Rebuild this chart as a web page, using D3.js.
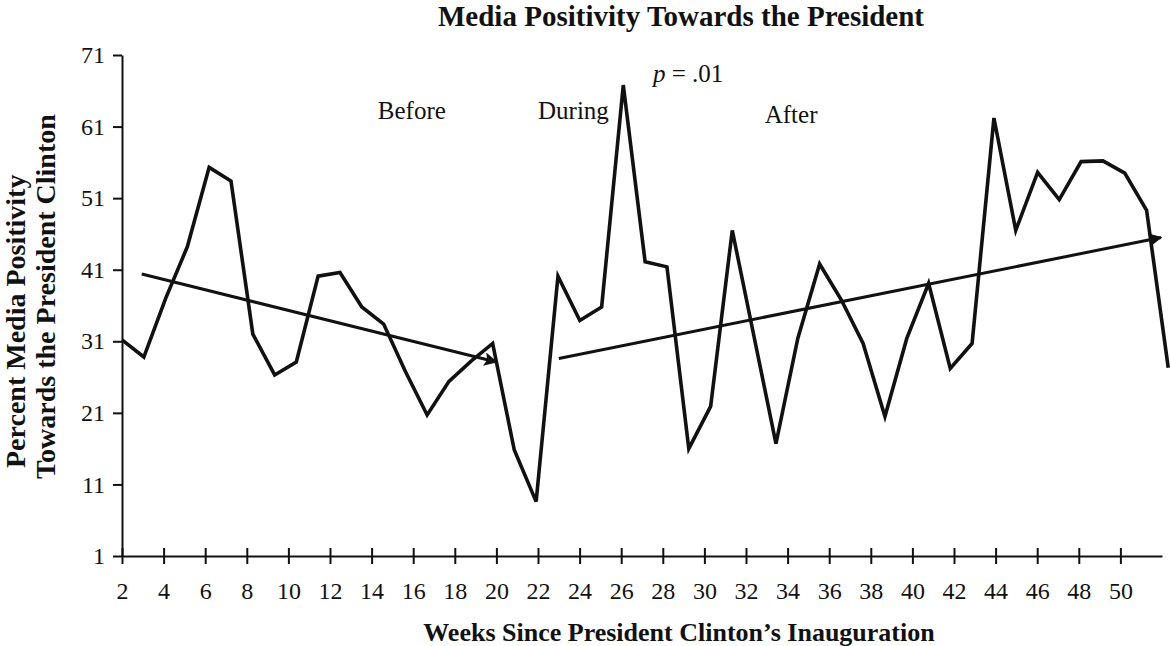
<!DOCTYPE html>
<html>
<head>
<meta charset="utf-8">
<script src="https://cdn.jsdelivr.net/npm/d3@7"></script>
<style>
  html, body { margin: 0; padding: 0; background: #fff; }
  svg { display: block; }
  text { font-family: "Liberation Serif", "Times New Roman", serif; fill: #111; }
</style>
</head>
<body>
<svg id="chart" width="1170" height="646"></svg>
<script>
// ---- data ----
const weeks = [2.0, 3.05, 4.1, 5.14, 6.19, 7.24, 8.29, 9.34, 10.38, 11.43, 12.48, 13.53,
  14.58, 15.62, 16.67, 17.72, 18.77, 19.82, 20.86, 21.91, 22.96, 24.01, 25.06, 26.1,
  27.15, 28.2, 29.25, 30.3, 31.34, 32.39, 33.44, 34.49, 35.54, 36.58, 37.63, 38.68,
  39.73, 40.78, 41.82, 42.87, 43.92, 44.97, 46.02, 47.06, 48.11, 49.16, 50.21, 51.26, 52.3];
const positivity = [31.2, 28.8, 37.0, 44.2, 55.3, 53.4, 32.0, 26.3, 28.1, 40.1, 40.6, 35.8,
  33.4, 26.8, 20.7, 25.4, 28.2, 30.7, 15.8, 8.6, 40.1, 33.9, 35.8, 66.8,
  42.1, 41.4, 16.0, 21.9, 46.5, 31.6, 16.7, 31.4, 41.8, 36.8, 30.7, 20.5,
  31.4, 39.1, 27.2, 30.7, 62.2, 46.5, 54.6, 50.8, 56.1, 56.2, 54.5, 49.3, 27.3];
const trendBefore = [{week: 2.95, value: 40.4}, {week: 20.0, value: 28.1}];
const trendAfter  = [{week: 23.0, value: 28.6}, {week: 51.95, value: 45.5}];
const xTicks = [2, 4, 6, 8, 10, 12, 14, 16, 18, 20, 22, 24, 26, 28, 30, 32, 34, 36, 38, 40, 42, 44, 46, 48, 50];
const yTicks = [1, 11, 21, 31, 41, 51, 61, 71];
const phaseLabels = [
  {text: "Before", week: 14.3, value: 62.0},
  {text: "During", week: 22.0, value: 62.0},
  {text: "After",  week: 32.9, value: 61.5}
];
const title = "Media Positivity Towards the President";
const xTitle = "Weeks Since President Clinton\u2019s Inauguration";
const yTitle1 = "Percent Media Positivity";
const yTitle2 = "Towards the President Clinton";

// ---- layout ----
const svg = d3.select("#chart");
const x = d3.scaleLinear().domain([2, 52]).range([122, 1162]);
const y = d3.scaleLinear().domain([1, 71]).range([556, 55]);

svg.append("rect").attr("width", 1170).attr("height", 646).attr("fill", "#fff");

// arrow marker
svg.append("defs").append("marker")
  .attr("id", "arrow").attr("viewBox", "0 0 10 10")
  .attr("refX", 9).attr("refY", 5)
  .attr("markerWidth", 6).attr("markerHeight", 4.5)
  .attr("markerUnits", "strokeWidth")
  .attr("orient", "auto")
  .append("path").attr("d", "M0,0 L10,5 L0,10 L2,5 z").attr("fill", "#111");

// y axis
const yAxis = svg.append("g").attr("transform", "translate(122,0)")
  .call(d3.axisLeft(y).tickValues(yTicks).tickSize(9).tickSizeOuter(0).tickPadding(8));
yAxis.select(".domain").attr("stroke", "#111").attr("stroke-width", 2);
yAxis.selectAll(".tick line").attr("stroke", "#111").attr("stroke-width", 2);
yAxis.selectAll(".tick text").attr("font-size", 24).attr("font-family", "Liberation Serif").attr("fill", "#111");

// x axis (ticks crossing the line)
const xAxis = svg.append("g").attr("transform", "translate(0,556)")
  .call(d3.axisBottom(x).tickValues(xTicks).tickSize(8).tickSizeOuter(0).tickPadding(18));
xAxis.select(".domain").attr("stroke", "#111").attr("stroke-width", 2);
xAxis.selectAll(".tick line").attr("y1", -8).attr("y2", 8).attr("stroke", "#111").attr("stroke-width", 2);
xAxis.selectAll(".tick text").attr("font-size", 24).attr("font-family", "Liberation Serif").attr("fill", "#111");

// data line
const line = d3.line().x((d, i) => x(weeks[i])).y(d => y(d));
svg.append("path").datum(positivity)
  .attr("d", line).attr("fill", "none").attr("stroke", "#111")
  .attr("stroke-width", 3.6).attr("stroke-linejoin", "miter");

// trend arrows
const tline = d3.line().x(d => x(d.week)).y(d => y(d.value));
[trendBefore, trendAfter].forEach(t => {
  svg.append("path").datum(t).attr("d", tline)
    .attr("fill", "none").attr("stroke", "#111").attr("stroke-width", 3)
    .attr("marker-end", "url(#arrow)");
});

// phase labels
svg.selectAll(".phase").data(phaseLabels).join("text")
  .attr("class", "phase")
  .attr("x", d => x(d.week)).attr("y", d => y(d.value))
  .attr("font-size", 25).text(d => d.text);

// p value
const pt = svg.append("text").attr("x", 653).attr("y", 82).attr("font-size", 25);
pt.append("tspan").attr("font-style", "italic").text("p");
pt.append("tspan").text(" = .01");

// titles
svg.append("text").attr("x", 681).attr("y", 26).attr("text-anchor", "middle")
  .attr("font-size", 29).attr("font-weight", "bold").text(title);
svg.append("text").attr("x", 679).attr("y", 641).attr("text-anchor", "middle")
  .attr("font-size", 26).attr("font-weight", "bold").text(xTitle);
svg.append("text").attr("transform", "translate(25,468) rotate(-90)")
  .attr("font-size", 28).attr("font-weight", "bold").text(yTitle1);
svg.append("text").attr("transform", "translate(55,479) rotate(-90)")
  .attr("font-size", 28).attr("font-weight", "bold").text(yTitle2);
</script>
</body>
</html>
